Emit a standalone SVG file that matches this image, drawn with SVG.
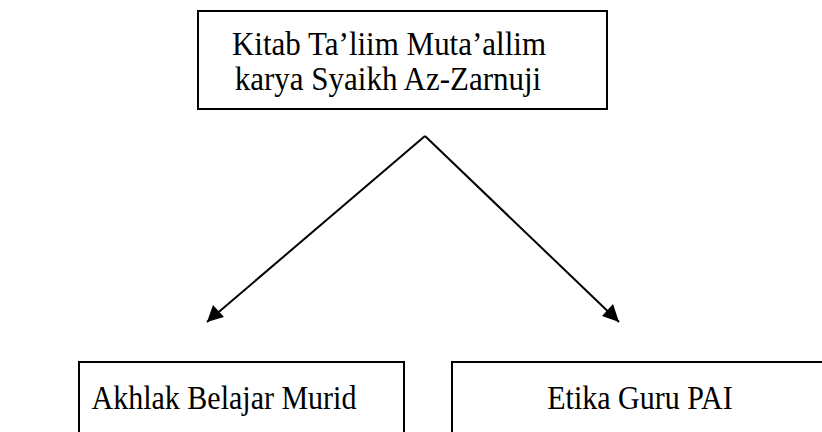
<svg xmlns="http://www.w3.org/2000/svg" width="822" height="432" viewBox="0 0 822 432">
<defs>
<style>
.box{fill:#fff;stroke:#000;stroke-width:2}
.t{font-family:'Liberation Serif','Times New Roman','DejaVu Serif',serif;font-size:30px;fill:#000;text-anchor:middle}
.big{font-size:31px}
</style>
</defs>
<rect width="822" height="432" fill="#fff"/>
<g id="n1">
<rect class="box" x="198" y="11" width="409" height="98"/>
<text class="t big" transform="translate(389,55) scale(1,1.12)">Kitab Ta’liim Muta’allim</text>
<text class="t big" transform="translate(388,90) scale(1,1.12)">karya Syaikh Az-Zarnuji</text>
</g>
<g id="n2">
<rect class="box" x="79" y="362" width="325" height="90"/>
<text class="t" transform="translate(224,409) scale(1,1.12)">Akhlak Belajar Murid</text>
</g>
<g id="n3">
<rect class="box" x="452" y="362" width="400" height="90"/>
<text class="t" transform="translate(640,409) scale(1,1.12)">Etika Guru PAI</text>
</g>
<g id="connectors">
<path d="M425,136 L207,322" stroke="#000" stroke-width="2" fill="none"/>
<path d="M425,136 L619,322" stroke="#000" stroke-width="2" fill="none"/>
<path d="M207,322 L213,305 L224,317 z" fill="#000"/>
<path d="M619,322 L602,316 L613,304 z" fill="#000"/>
</g>
</svg>
